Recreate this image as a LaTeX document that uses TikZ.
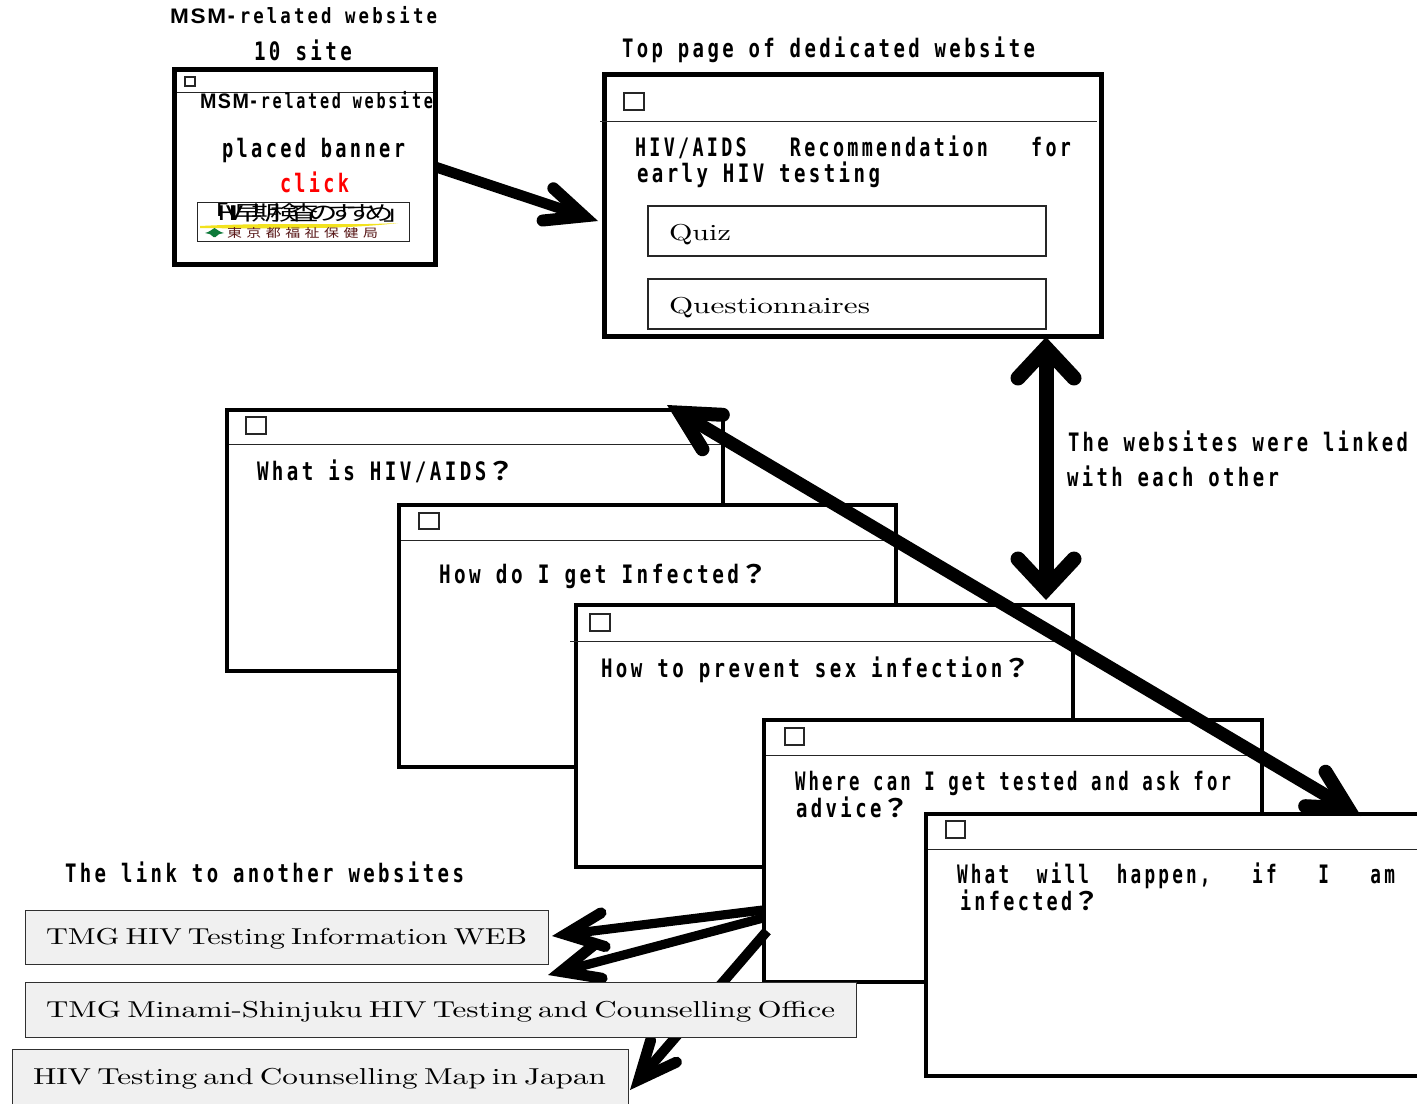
\documentclass[tikz,border=0pt]{standalone}
\usepackage{fontspec}
\usepackage{graphicx}
\usetikzlibrary{arrows.meta}
\newfontfamily\gothic{DejaVu Sans Mono}[BoldFont={DejaVu Sans Mono Bold},LetterSpace=18]
\newfontfamily\wideg{Liberation Sans}[LetterSpace=8]
\newfontfamily\cjkb{Noto Sans CJK JP}[BoldFont={Noto Sans CJK JP Bold}]
\newfontfamily\cjkt{Noto Sans CJK JP}[LetterSpace=-36]
\newfontfamily\cjks{Noto Sans CJK JP}[LetterSpace=30]
\newdimen\pxu \pxu=0.5pt
\newcommand{\fitg}[2]{\resizebox{#1\pxu}{1.27\height}{\gothic\bfseries #2}}
\newcommand{\fits}[3]{\resizebox{#1\pxu}{#2\height}{\spaceskip=.2em #3}}
\newcommand{\qmk}{\scalebox{1.5}[1]{\cjkb\bfseries ？}}
\newcommand{\msm}{\scalebox{1.3}[1]{\wideg\bfseries MSM}}
\definecolor{linkfill}{HTML}{F0F0F0}
\definecolor{linkedge}{HTML}{303030}
\definecolor{kanji}{HTML}{5A1A1A}
\definecolor{banyellow}{HTML}{F2E21E}
\definecolor{bangreen}{HTML}{0E7A3A}
\tikzset{
  lbl/.style={anchor=base west,inner sep=0pt,outer sep=0pt},
  winbox/.style={draw=black,fill=white,line width=2pt,rectangle,anchor=north west,inner sep=0pt,outer sep=0pt},
  bigwin/.style={winbox,line width=2.5pt},
  rule/.style={draw=black!85,line width=0.5pt},
  chk/.style={draw=black!85,fill=white,line width=0.55pt,rectangle,anchor=north west,inner sep=0pt,outer sep=0pt},
  optbox/.style={draw=black!85,fill=white,line width=0.55pt,rectangle,anchor=north west,inner sep=0pt,outer sep=0pt},
  linkbox/.style={draw=linkedge,fill=linkfill,line width=0.5pt,rectangle,anchor=north west,inner sep=0pt,outer sep=0pt},
  thickarrow/.style={draw=black,line width=#1},
  smalltip/.tip={Straight Barb[length=19pt,width=17pt,line width=6pt,line cap=round,line join=miter]},
  linktip/.tip={Straight Barb[length=19pt,width=17pt,line width=5.5pt,line cap=round,line join=miter]},
  bigtip/.tip={Straight Barb[length=15pt,width=28pt,line width=7.5pt,line cap=round,line join=miter]},
  longtip/.tip={Straight Barb[length=19pt,width=20pt,line width=7pt,line cap=round,line join=miter]},
}
\begin{document}
\begin{tikzpicture}[x=0.5pt,y=-0.5pt]
\clip (0,0) rectangle (1417,1103);
\fill[white] (0,0) rectangle (1417,1103);

% titles
\node[lbl] (t1) at (170,24) {\resizebox{267\pxu}{1.05\height}{\gothic\bfseries\msm-related website}};
\node[lbl] (t2) at (254,61) {\fitg{98}{10 site}};
\node[lbl] (t3) at (622,57) {\fitg{413}{Top page of dedicated website}};

% MSM window
\node[bigwin,minimum width=261\pxu,minimum height=195\pxu] (w1) at (174.5,69.5) {};
\draw[rule] (177,92) -- (433,92);
\node[chk,minimum width=10\pxu,minimum height=9\pxu] (c1) at (185,77) {};
\node[lbl] (w1a) at (200,108) {\resizebox{233\pxu}{1.05\height}{\gothic\bfseries\msm-related website}};
\node[lbl] (w1b) at (222,157) {\fitg{183}{placed banner}};
\node[lbl] (w1c) at (280,192) {\resizebox{69\pxu}{1.27\height}{\gothic\bfseries\color{red}click}};
\node[draw=black!85,fill=white,line width=0.5pt,rectangle,anchor=north west,inner sep=0pt,minimum width=212\pxu,minimum height=39\pxu] (ban) at (197,202) {};
\fill[banyellow] (200,226) .. controls (280,222) and (340,226) .. (398,223) .. controls (350,229) and (280,229) .. (200,228) -- cycle;
\fill[bangreen] (205,233) .. controls (210,232) and (212,229) .. (214.5,228) .. controls (217,229) and (219,232) .. (224,233) .. controls (220,234) and (217,234) .. (215.5,237) -- (213.5,237) .. controls (212,234) and (209,234) .. (205,233) -- cycle;
\node[lbl] (ban1) at (199,220) {\resizebox{214\pxu}{17\pxu}{\cjkt 「HIV早期検査のすすめ」}};
\node[lbl,text=kanji] (ban2) at (227,237) {\resizebox{151\pxu}{10\pxu}{\cjks 東京都福祉保健局}};

% dedicated website
\node[bigwin,minimum width=496.5\pxu,minimum height=261.5\pxu] (w2) at (604.5,74.5) {};
\draw[rule] (600,121) -- (1097,121);
\node[chk,minimum width=20\pxu,minimum height=17\pxu] (c2) at (624,93) {};
\node[lbl] (w2a) at (635,156) {\fitg{436}{HIV/AIDS~~~Recommendation~~~for}};
\node[lbl] (w2b) at (637,182) {\fitg{243}{early HIV testing}};
\node[optbox,minimum width=398\pxu,minimum height=50\pxu] (quiz) at (648,206) {};
\node[optbox,minimum width=398\pxu,minimum height=50\pxu] (ques) at (648,279) {};
\node[lbl] (quizt) at (669,240) {\fits{62}{1.15}{Quiz}};
\node[lbl] (quest) at (669,313) {\fits{201}{1.15}{Questionnaires}};

% stacked windows
\node[winbox,minimum width=496.5\pxu,minimum height=261\pxu] (w3) at (226.5,410) {};
\draw[rule] (229,444) -- (721,444);
\node[chk,minimum width=20\pxu,minimum height=17\pxu] (c3) at (246,417) {};
\node[lbl] (w3a) at (257,480) {\fitg{258}{What is HIV/AIDS\qmk}};

\node[winbox,minimum width=497\pxu,minimum height=262\pxu] (w4) at (399,505) {};
\draw[rule] (401,540) -- (894,540);
\node[chk,minimum width=20\pxu,minimum height=16\pxu] (c4) at (419,513) {};
\node[lbl] (w4a) at (439,583) {\fitg{329}{How do I get Infected\qmk}};

\node[winbox,minimum width=497\pxu,minimum height=262\pxu] (w5) at (576,605) {};
\draw[rule] (570,641) -- (1071,641);
\node[chk,minimum width=20\pxu,minimum height=17\pxu] (c5) at (590,614) {};
\node[lbl] (w5a) at (601,677) {\fitg{430}{How to prevent sex infection\qmk}};

\node[winbox,minimum width=498\pxu,minimum height=262\pxu] (w6) at (764,720) {};
\draw[rule] (766,755) -- (1260,755);
\node[chk,minimum width=19\pxu,minimum height=17\pxu] (c6) at (785,728) {};
\node[lbl] (w6a) at (795,790) {\fitg{436}{Where can I get tested and ask for}};
\node[lbl] (w6b) at (796,817) {\fitg{114}{advice\qmk}};

\node[winbox,minimum width=520\pxu,minimum height=262\pxu] (w7) at (926,814) {};
\draw[rule] (928,849) -- (1417,849);
\node[chk,minimum width=19\pxu,minimum height=17\pxu] (c7) at (946,821) {};
\node[lbl] (w7a) at (957,883) {\fitg{438}{What~~will~~happen,~~~if~~~I~~~am}};
\node[lbl] (w7b) at (960,910) {\fitg{140}{infected\qmk}};

% link section
\node[lbl] (t4) at (65,882) {\fitg{399}{The link to another websites}};
\node[linkbox,minimum width=616\pxu,minimum height=60\pxu] (lc) at (12,1049) {};
\node[lbl] (lct) at (33,1084) {\fits{573}{1.15}{HIV Testing and Counselling Map in Japan}};

\coordinate (a1s) at (763,910);
\coordinate (a1e) at (552,936);
\coordinate (a2s) at (763,918);
\coordinate (a2e) at (548,975);
\coordinate (a3s) at (767,931);
\coordinate (a3e) at (630,1090);
\draw[thickarrow=5pt,-{linktip}] (a3s) -- (a3e);
\draw[thickarrow=4.6pt,-{linktip}] (a1s) -- (a1e);
\draw[thickarrow=4.6pt,-{linktip}] (a2s) -- (a2e);

\node[linkbox,minimum width=523\pxu,minimum height=54\pxu] (la) at (25,910) {};
\node[lbl] (lat) at (46,944) {\fits{481}{1.15}{TMG HIV Testing Information WEB}};
\node[linkbox,minimum width=831\pxu,minimum height=55\pxu] (lb) at (25,982) {};
\node[lbl] (lbt) at (46,1017) {\fits{789}{1.15}{TMG Minami-Shinjuku HIV Testing and Counselling Office}};

% linked label
\node[lbl] (t5) at (1068,451) {\fitg{340}{The websites were linked}};
\node[lbl] (t6) at (1067,486) {\fitg{212}{with each other}};

% main arrows
\coordinate (b1e) at (598,221);
\draw[thickarrow=5.3pt,-{smalltip}] (w1.east) -- (b1e);
\coordinate (dt) at (1046,337);
\coordinate (db) at (1046,600);
\draw[thickarrow=7.5pt,{bigtip}-{bigtip}] (dt) -- (db);
\coordinate (lt) at (667,405);
\coordinate (lb2) at (1361,816);
\draw[thickarrow=6.5pt,{longtip}-{longtip}] (lt) -- (lb2);
\end{tikzpicture}
\end{document}
